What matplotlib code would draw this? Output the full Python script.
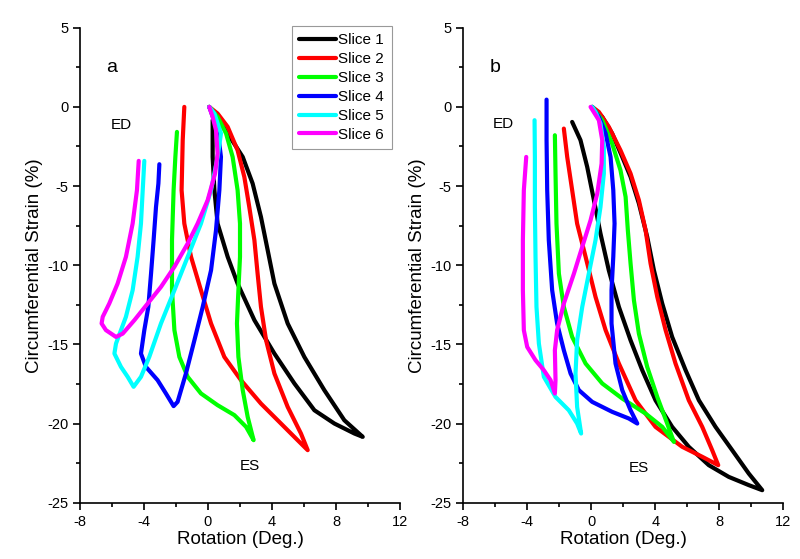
import matplotlib.pyplot as plt
from matplotlib.ticker import MultipleLocator

plt.rcParams['font.family'] = ['Liberation Sans', 'DejaVu Sans']
plt.rcParams['axes.unicode_minus'] = False

labels = ["Slice 1", "Slice 2", "Slice 3", "Slice 4", "Slice 5", "Slice 6"]
colors = ["#000000", "#ff0000", "#00ff00", "#0000ff", "#00ffff", "#ff00ff"]

# panel a : rotation (deg) and circumferential strain (%) per slice
a_rot1 = [0.08, 1.23, 2.17, 2.79, 3.31, 3.73, 4.15, 4.98, 6.02, 7.27, 8.52, 9.67,
          9.15, 7.9, 6.65, 5.4, 4.15, 2.9, 1.85, 1.23, 0.6, 0.4, 0.29, 0.29]
a_str1 = [0, -1.68, -3.16, -4.84, -6.95, -9.05, -11.16, -13.68, -15.79, -17.89, -19.79, -20.84,
          -20.63, -20, -19.16, -17.47, -15.58, -13.47, -11.16, -9.47, -7.37, -5.26, -3.16, -0.84]
a_rot2 = [0.08, 0.6, 1.23, 1.85, 2.27, 2.58, 2.9, 3.1, 3.31, 3.63, 4.15, 4.98, 5.81, 6.23,
          5.6, 4.56, 3.31, 2.06, 1.02, 0.19, -0.44, -1.06, -1.48, -1.65, -1.58, -1.48]
a_str2 = [0, -0.42, -1.26, -2.74, -4.42, -6.32, -8.42, -10.53, -12.63, -14.74, -16.84, -18.95, -20.63, -21.68,
          -21.05, -20, -18.74, -17.26, -15.79, -13.68, -11.58, -9.47, -7.37, -5.26, -2.1, 0]
a_rot3 = [0.08, 0.6, 1.13, 1.54, 1.85, 2.0, 2.0, 1.9, 1.81, 1.9, 2.17, 2.48, 2.85,
          2.38, 1.65, 0.6, -0.44, -1.27, -1.79, -2.1, -2.25, -2.25, -2.15, -2.04, -1.94]
a_str3 = [0, -0.63, -1.68, -3.16, -5.26, -7.37, -9.47, -11.58, -13.68, -15.79, -17.89, -19.58, -21.05,
          -20.21, -19.47, -18.84, -18.1, -17.05, -15.79, -14.1, -11.58, -8.42, -5.26, -3.16, -1.58]
a_rot4 = [0.08, 0.6, 0.81, 0.71, 0.5, 0.19, -0.33, -0.85, -1.38, -1.9, -2.15, -2.63, -3.15, -3.88,
          -4.19, -3.98, -3.73, -3.56, -3.4, -3.25, -3.1, -3.04]
a_str4 = [0, -1.47, -3.16, -5.26, -7.79, -10.32, -12.63, -14.74, -16.84, -18.63, -18.9, -18.1, -17.26, -16.42,
          -15.58, -14.1, -12.63, -10.53, -8.42, -6.32, -4.84, -3.62]
a_rot5 = [0.08, 0.4, 0.81, 0.6, 0.19, -0.44, -1.27, -2.1, -2.94, -3.67, -4.19, -4.65, -5.02, -5.44,
          -5.85, -5.75, -5.13, -4.71, -4.4, -4.19, -4.08, -3.98]
a_str5 = [0, -0.42, -1.68, -3.16, -5.26, -7.37, -9.47, -11.58, -13.68, -15.79, -17.05, -17.68, -17.05, -16.42,
          -15.58, -14.95, -13.26, -11.58, -9.47, -7.37, -5.26, -3.41]
a_rot6 = [0.08, 0.29, 0.5, 0.6, 0.44, -0.02, -0.65, -1.27, -2.1, -2.94, -3.77, -4.6, -5.33, -5.75,
          -6.38, -6.65, -6.58, -6.17, -5.65, -5.13, -4.71, -4.44, -4.33]
a_str6 = [0, -0.63, -1.47, -2.95, -4.21, -5.89, -7.37, -8.63, -10.1, -11.37, -12.42, -13.47, -14.32, -14.53,
          -14.1, -13.68, -13.26, -12.42, -11.16, -9.47, -7.37, -5.26, -3.41]

# panel b
b_rot1 = [0.06, 0.69, 1.31, 1.94, 2.46, 2.98, 3.5, 3.92, 4.44, 5.06, 5.9, 6.73, 7.77, 8.81, 9.85, 10.69,
          9.85, 8.6, 7.35, 6.1, 5.06, 4.02, 3.19, 2.46, 1.73, 1.1, 0.58, 0.17, -0.25, -0.67, -1.19]
b_str1 = [0, -0.63, -1.68, -3.16, -4.42, -6.1, -8.21, -10.32, -12.42, -14.53, -16.63, -18.53, -20.21, -21.68, -23.16, -24.21,
          -23.89, -23.37, -22.63, -21.47, -20.21, -18.53, -16.63, -14.74, -12.63, -10.32, -8, -5.89, -3.79, -2.1, -0.95]
b_rot2 = [0.06, 0.48, 1.1, 1.83, 2.46, 2.98, 3.4, 3.71, 4.13, 4.65, 5.27, 6.1, 6.94, 7.56, 7.94,
          6.94, 5.69, 4.02, 2.77, 1.73, 0.9, 0.27, -0.35, -0.88, -1.19, -1.5, -1.71]
b_str2 = [0, -0.32, -1.26, -2.74, -4.21, -5.89, -7.79, -9.89, -12, -14.1, -16.21, -18.53, -20.21, -21.68, -22.63,
          -22.1, -21.47, -20.21, -18.53, -16.21, -14.1, -12, -9.47, -7.37, -5.26, -3.16, -1.37]
b_rot3 = [0.06, 0.69, 1.31, 1.83, 2.15, 2.29, 2.46, 2.67, 2.98, 3.5, 4.13, 4.75, 5.17,
          4.44, 3.4, 1.94, 0.69, -0.35, -1.19, -1.71, -2.02, -2.17, -2.23, -2.27]
b_str3 = [0, -0.84, -2.32, -4, -5.68, -7.79, -9.89, -12.21, -14.32, -16.42, -18.32, -20, -21.16,
          -20.21, -19.37, -18.42, -17.47, -16.21, -14.53, -12.63, -10.53, -7.37, -4.21, -1.79]
b_rot4 = [0.06, 0.48, 0.9, 1.21, 1.38, 1.46, 1.38, 1.27, 1.27, 1.52, 1.94, 2.46, 2.88,
          2.35, 1.31, 0.06, -0.77, -1.29, -1.71, -2.13, -2.44, -2.65, -2.75, -2.79, -2.79]
b_str4 = [0, -0.63, -1.68, -3.16, -5.26, -7.37, -9.47, -11.58, -13.68, -16.21, -17.89, -19.16, -20,
          -19.68, -19.26, -18.63, -17.89, -16.84, -15.37, -13.68, -11.58, -8.42, -5.26, -2.1, 0.46]
b_rot5 = [0.06, 0.27, 0.58, 0.79, 0.79, 0.58, 0.27, -0.15, -0.56, -0.88, -0.98, -0.88, -0.63,
          -0.88, -1.4, -2.23, -2.96, -3.27, -3.42, -3.48, -3.52, -3.52, -3.54]
b_str5 = [0, -0.32, -1.05, -2.53, -4.21, -6.32, -8.42, -10.53, -12.63, -14.74, -16.84, -18.95, -20.63,
          -20, -19.16, -18.32, -17.05, -14.95, -12.63, -9.47, -6.32, -3.16, -0.84]
b_rot6 = [-0.04, 0.48, 0.69, 0.65, 0.38, -0.04, -0.56, -1.08, -1.71, -2.13, -2.27, -2.23, -2.27,
          -2.54, -2.96, -3.48, -4.0, -4.21, -4.27, -4.27, -4.21, -4.06]
b_str6 = [0, -0.84, -2.1, -3.58, -5.47, -7.16, -8.84, -10.53, -12.42, -14.1, -15.37, -17.26, -18.1,
          -17.26, -16.63, -16, -15.16, -14.1, -11.58, -8.42, -5.26, -3.16]

rot_a = [a_rot1, a_rot2, a_rot3, a_rot4, a_rot5, a_rot6]
str_a = [a_str1, a_str2, a_str3, a_str4, a_str5, a_str6]
rot_b = [b_rot1, b_rot2, b_rot3, b_rot4, b_rot5, b_rot6]
str_b = [b_str1, b_str2, b_str3, b_str4, b_str5, b_str6]

fig = plt.figure(figsize=(8, 5.59), dpi=100)
ax1 = fig.add_axes([0.1, 0.1007, 0.4, 0.8497])
ax2 = fig.add_axes([0.579, 0.1007, 0.4, 0.8497])

for ax, rots, strs, tag, ed, es in [(ax1, rot_a, str_a, "a", (-5.4, -1.15), (2.6, -22.7)),
                                     (ax2, rot_b, str_b, "b", (-5.5, -1.1), (3.0, -22.8))]:
    for r, s, c, lab in zip(rots, strs, colors, labels):
        ax.plot(r, s, color=c, lw=3, label=lab, solid_capstyle="round", solid_joinstyle="round")
    ax.set_xlim(-8, 12)
    ax.set_ylim(-25, 5)
    ax.xaxis.set_major_locator(MultipleLocator(4))
    ax.xaxis.set_minor_locator(MultipleLocator(2))
    ax.yaxis.set_major_locator(MultipleLocator(5))
    ax.yaxis.set_minor_locator(MultipleLocator(2.5))
    ax.spines["top"].set_visible(False)
    ax.spines["right"].set_visible(False)
    ax.spines["left"].set_linewidth(1.2)
    ax.spines["bottom"].set_linewidth(1.2)
    ax.tick_params(which="major", direction="out", length=5, width=1.2, labelsize=10.5)
    ax.tick_params(which="minor", direction="out", length=3, width=1.2)
    ax.set_xlabel("Rotation (Deg.)", fontsize=13.5, labelpad=2)
    ax.set_ylabel("Circumferential Strain (%)", fontsize=13.5, labelpad=3)
    ax.text(-6.0, 2.5, tag, fontsize=14, ha="center", va="center")
    ax.text(ed[0], ed[1], "ED", fontsize=11, ha="center", va="center")
    ax.text(es[0], es[1], "ES", fontsize=11, ha="center", va="center")

leg = ax1.legend(loc="upper right", bbox_to_anchor=(391.7 / 800, 1 - 25.7 / 559),
                 bbox_transform=fig.transFigure, fontsize=11, frameon=True, fancybox=False,
                 handlelength=2.4, handletextpad=0.15, labelspacing=0.32, borderpad=0.5,
                 borderaxespad=0)
leg.get_frame().set_edgecolor("#808080")
leg.get_frame().set_linewidth(0.8)

fig.savefig("out.png", dpi=100)
